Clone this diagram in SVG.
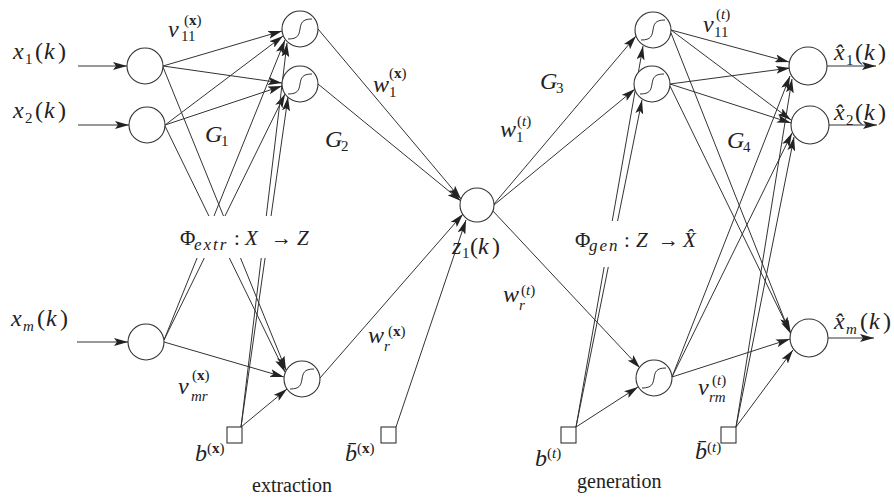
<svg xmlns="http://www.w3.org/2000/svg" width="894" height="500" viewBox="0 0 894 500">
<defs>
<marker id="ah" markerUnits="userSpaceOnUse" markerWidth="15" markerHeight="8" refX="14" refY="4" orient="auto">
<path d="M0,0 L14,4 L0,8 L3,4 z" fill="#222"/>
</marker>
<path id="sig" d="M-12,10 C-2,10 -1,6 0,0 C1,-6 2,-10 12,-10" fill="none" stroke="#333" stroke-width="1"/>
</defs>
<style>
.c{fill:#fff;stroke:#333;stroke-width:1.1}
.sq{fill:#fff;stroke:#333;stroke-width:1.1}
.a{fill:none;stroke:#333;stroke-width:1;marker-end:url(#ah)}
.m{font-style:italic;font-size:24px}
.s{font-size:15px}
.si{font-size:15px;font-style:italic}
.sub{font-size:17px;font-style:italic;letter-spacing:2px}
.u{font-style:normal}
.b{font-weight:bold;font-style:normal}
.w{font-size:20px;font-style:normal}
</style>
<rect width="894" height="500" fill="#fff"/>

<g id="connectors">
<line class="a" x1="78" y1="66" x2="127" y2="66"/>
<line class="a" x1="78" y1="125" x2="129" y2="125"/>
<line class="a" x1="77" y1="342" x2="128" y2="342"/>
<line class="a" x1="163" y1="66" x2="282" y2="31"/>
<line class="a" x1="163" y1="66" x2="282" y2="83"/>
<line class="a" x1="163" y1="67" x2="286" y2="370"/>
<line class="a" x1="165" y1="125" x2="283" y2="36"/>
<line class="a" x1="165" y1="125" x2="282" y2="86"/>
<line class="a" x1="165" y1="126" x2="285" y2="372"/>
<line class="a" x1="164" y1="340" x2="285" y2="40"/>
<line class="a" x1="164" y1="340" x2="285" y2="94"/>
<line class="a" x1="164" y1="342" x2="284" y2="377"/>
<line class="a" x1="241" y1="427" x2="287" y2="43"/>
<line class="a" x1="241" y1="427" x2="288" y2="97"/>
<line class="a" x1="241" y1="427" x2="287" y2="389"/>
<line class="a" x1="318" y1="29" x2="461" y2="199"/>
<line class="a" x1="318" y1="84" x2="461" y2="201"/>
<line class="a" x1="320" y1="378" x2="463" y2="214"/>
<line class="a" x1="396" y1="427" x2="466" y2="220"/>
<line class="a" x1="494" y1="204" x2="636" y2="36"/>
<line class="a" x1="494" y1="205" x2="635" y2="89"/>
<line class="a" x1="492" y1="210" x2="640" y2="368"/>
<line class="a" x1="576" y1="427" x2="643" y2="46"/>
<line class="a" x1="576" y1="427" x2="642" y2="100"/>
<line class="a" x1="576" y1="427" x2="638" y2="387"/>
<line class="a" x1="671" y1="30" x2="789" y2="62"/>
<line class="a" x1="671" y1="30" x2="791" y2="120"/>
<line class="a" x1="671" y1="33" x2="789" y2="331"/>
<line class="a" x1="670" y1="84" x2="790" y2="68"/>
<line class="a" x1="670" y1="84" x2="791" y2="123"/>
<line class="a" x1="670" y1="86" x2="791" y2="334"/>
<line class="a" x1="672" y1="377" x2="790" y2="76"/>
<line class="a" x1="672" y1="377" x2="792" y2="133"/>
<line class="a" x1="672" y1="377" x2="790" y2="339"/>
<line class="a" x1="736" y1="427" x2="792" y2="79"/>
<line class="a" x1="736" y1="427" x2="794" y2="137"/>
<line class="a" x1="736" y1="427" x2="793" y2="350"/>
<line class="a" x1="827" y1="66" x2="876" y2="66"/>
<line class="a" x1="829" y1="125" x2="877" y2="125"/>
<line class="a" x1="828" y1="338" x2="874" y2="338"/>
</g>

<rect x="168" y="216" width="135" height="42" fill="#fff"/>
<rect x="570" y="221" width="135" height="46" fill="#fff"/>

<g id="in1"><circle class="c" cx="145" cy="66" r="18"/></g>
<g id="in2"><circle class="c" cx="147" cy="125" r="18"/></g>
<g id="inm"><circle class="c" cx="146" cy="342" r="18"/></g>
<g id="hx1"><circle class="c" cx="300" cy="29" r="18"/><use href="#sig" x="300" y="29"/></g>
<g id="hx2"><circle class="c" cx="300" cy="84" r="18"/><use href="#sig" x="300" y="84"/></g>
<g id="hxr"><circle class="c" cx="302" cy="379" r="18"/><use href="#sig" x="302" y="379"/></g>
<g id="z1"><circle class="c" cx="477" cy="205" r="17"/></g>
<g id="ht1"><circle class="c" cx="653" cy="30" r="18"/><use href="#sig" x="653" y="30"/></g>
<g id="ht2"><circle class="c" cx="652" cy="84" r="18"/><use href="#sig" x="652" y="84"/></g>
<g id="htr"><circle class="c" cx="654" cy="378" r="18"/><use href="#sig" x="654" y="378"/></g>
<g id="out1"><circle class="c" cx="808" cy="66" r="19"/></g>
<g id="out2"><circle class="c" cx="810" cy="125" r="19"/></g>
<g id="outm"><circle class="c" cx="809" cy="338" r="19"/></g>
<g id="bx"><rect class="sq" x="227" y="427" width="15" height="16"/></g>
<g id="bbx"><rect class="sq" x="381" y="427" width="15" height="16"/></g>
<g id="bt"><rect class="sq" x="561" y="427" width="15" height="16"/></g>
<g id="bbt"><rect class="sq" x="721" y="427" width="15" height="16"/></g>

<g id="labels" font-family="'Liberation Serif', 'Times New Roman', serif" fill="#222">
<text class="m" y="59"><tspan x="13">x</tspan><tspan class="s u" x="25" y="64">1</tspan><tspan class="u" x="35" y="59">(</tspan><tspan x="44">k</tspan><tspan class="u" x="58">)</tspan></text>
<text class="m" y="118"><tspan x="13">x</tspan><tspan class="s u" x="25" y="123">2</tspan><tspan class="u" x="35" y="118">(</tspan><tspan x="44">k</tspan><tspan class="u" x="58">)</tspan></text>
<text class="m" y="326"><tspan x="11">x</tspan><tspan class="si" x="23" y="331">m</tspan><tspan class="u" x="37" y="326">(</tspan><tspan x="46">k</tspan><tspan class="u" x="60">)</tspan></text>
<text class="m" y="60"><tspan x="834">x̂</tspan><tspan class="s u" x="846" y="65">1</tspan><tspan class="u" x="855" y="60">(</tspan><tspan x="864">k</tspan><tspan class="u" x="878">)</tspan></text>
<text class="m" y="120"><tspan x="834">x̂</tspan><tspan class="s u" x="846" y="125">2</tspan><tspan class="u" x="855" y="120">(</tspan><tspan x="864">k</tspan><tspan class="u" x="878">)</tspan></text>
<text class="m" y="329"><tspan x="834">x̂</tspan><tspan class="si" x="846" y="334">m</tspan><tspan class="u" x="860" y="329">(</tspan><tspan x="869">k</tspan><tspan class="u" x="883">)</tspan></text>
<text class="m" x="168" y="37">v</text><text class="s" x="181" y="41">11</text><text class="s" x="184" y="25">(<tspan class="b">x</tspan>)</text>
<text class="m" x="178" y="394">v</text><text class="si" x="191" y="401">mr</text><text class="s" x="192" y="380">(<tspan class="b">x</tspan>)</text>
<text class="m" x="373" y="92">w</text><text class="s" x="389" y="97">1</text><text class="s" x="389" y="78">(<tspan class="b">x</tspan>)</text>
<text class="m" x="368" y="343">w</text><text class="si" x="384" y="351">r</text><text class="s" x="388" y="336">(<tspan class="b">x</tspan>)</text>
<text class="m" x="500" y="137">w</text><text class="s" x="516" y="142">1</text><text class="s" x="517" y="126">(<tspan class="si">t</tspan>)</text>
<text class="m" x="503" y="302">w</text><text class="si" x="519" y="310">r</text><text class="s" x="521" y="295">(<tspan class="si">t</tspan>)</text>
<text class="m" x="703" y="32">v</text><text class="s" x="714" y="37">11</text><text class="s" x="716" y="19">(<tspan class="si">t</tspan>)</text>
<text class="m" x="698" y="395">v</text><text class="si" x="709" y="402">rm</text><text class="s" x="712" y="385">(<tspan class="si">t</tspan>)</text>
<text class="m" x="205" y="142">G</text><text class="s" x="221" y="146">1</text>
<text class="m" x="325" y="147">G</text><text class="s" x="341" y="151">2</text>
<text class="m" x="540" y="89">G</text><text class="s" x="556" y="93">3</text>
<text class="m" x="727" y="148">G</text><text class="s" x="743" y="152">4</text>
<text class="m" y="254"><tspan x="452">z</tspan><tspan class="s u" x="462" y="258">1</tspan><tspan class="u" x="470" y="254">(</tspan><tspan x="478">k</tspan><tspan class="u" x="492">)</tspan></text>
<text class="m" y="245"><tspan class="u" x="180" font-size="21">Φ</tspan><tspan class="sub" x="194" y="250">extr</tspan><tspan class="u" x="234" y="245" font-size="21">:</tspan><tspan x="245" font-size="21">X</tspan><tspan class="u" x="271" font-size="21">→</tspan><tspan x="297" font-size="21">Z</tspan></text>
<text class="m" y="247"><tspan class="u" x="575" font-size="21">Φ</tspan><tspan class="sub" x="589" y="251">gen</tspan><tspan class="u" x="624" y="247" font-size="21">:</tspan><tspan x="636" font-size="21">Z</tspan><tspan class="u" x="658" font-size="21">→</tspan><tspan x="683" font-size="21">X̂</tspan></text>
<text class="m" x="195" y="461">b</text><text class="s" x="207" y="453">(<tspan class="b">x</tspan>)</text>
<text class="m" x="345" y="461">b̄</text><text class="s" x="357" y="453">(<tspan class="b">x</tspan>)</text>
<text class="m" x="535" y="466">b</text><text class="s" x="547" y="458">(<tspan class="si">t</tspan>)</text>
<text class="m" x="695" y="459">b̄</text><text class="s" x="707" y="452">(<tspan class="si">t</tspan>)</text>
<text class="w" x="252" y="492">extraction</text>
<text class="w" x="577" y="488">generation</text>
</g>
</svg>
